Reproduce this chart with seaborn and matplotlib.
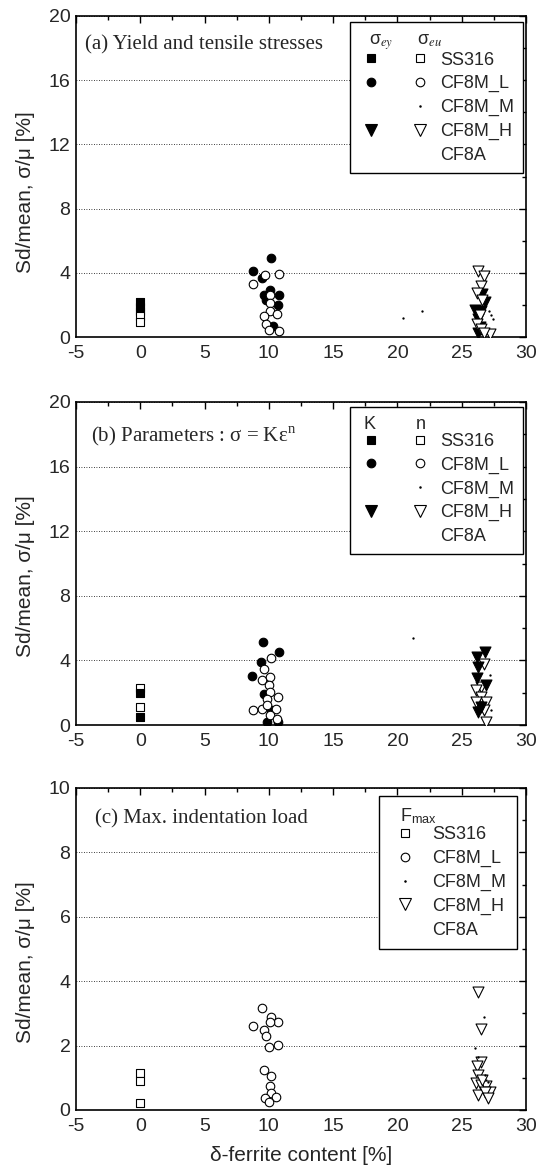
import numpy as np
import pandas as pd
import matplotlib
matplotlib.use("Agg")
import matplotlib.pyplot as plt
import seaborn as sns
from matplotlib.lines import Line2D
from matplotlib.legend_handler import HandlerTuple
from matplotlib.ticker import MultipleLocator

# ---------------- data ----------------
# panel (a): yield (sigma_ey, filled) and tensile (sigma_eu, open)
a_ss_ey_x = [0, 0, 0]
a_ss_ey_y = [2.15, 1.9, 1.65]
a_ss_eu_x = [0, 0]
a_ss_eu_y = [1.3, 0.95]
a_L_ey_x = [8.8, 10.2, 9.5, 10.1, 9.6, 10.8, 10.7, 9.8, 10.3]
a_L_ey_y = [4.1, 4.95, 3.7, 2.9, 2.6, 2.6, 2.0, 2.3, 0.7]
a_L_eu_x = [8.8, 9.7, 10.8, 10.1, 10.1, 10.1, 9.6, 10.6, 9.8, 10.0, 10.8]
a_L_eu_y = [3.3, 3.85, 3.95, 2.6, 2.1, 1.6, 1.3, 1.45, 0.8, 0.45, 0.35]
a_M_x = [20.4, 21.9, 27.3, 27.1, 26.8, 27.4]
a_M_y = [1.2, 1.6, 1.4, 1.6, 2.1, 1.1]
a_H_ey_x = [26.6, 26.0, 26.3, 26.3, 26.5, 26.8, 26.4]
a_H_ey_y = [2.65, 1.7, 1.1, 0.27, 1.6, 2.2, 0.6]
a_H_eu_x = [26.3, 26.7, 26.5, 26.2, 26.4, 26.2, 26.5, 27.2, 26.7, 26.6]
a_H_eu_y = [4.1, 3.78, 3.16, 2.75, 1.4, 0.8, 0.5, 0.17, 0.27, 2.3]

# panel (b): K (filled) and n (open)
b_ss_K_x = [0, 0]
b_ss_K_y = [1.96, 0.52]
b_ss_n_x = [0, 0]
b_ss_n_y = [2.27, 1.13]
b_L_K_x = [9.57, 10.79, 9.41, 8.71, 9.62, 9.83, 10.74, 10.2]
b_L_K_y = [5.11, 4.52, 3.88, 3.03, 1.9, 0.2, 0.2, 0.93]
b_L_n_x = [10.16, 9.6, 9.5, 10.1, 9.98, 10.08, 10.73, 9.83, 9.44, 8.74, 10.55, 10.08, 9.87, 10.6]
b_L_n_y = [4.12, 3.48, 2.78, 2.99, 2.47, 2.06, 1.75, 1.59, 0.97, 0.93, 0.97, 0.62, 1.24, 0.37]
b_M_x = [27.2, 27.3, 21.2]
b_M_y = [3.1, 0.9, 5.36]
b_H_K_x = [26.2, 26.8, 26.3, 26.2, 26.9, 26.5, 26.3]
b_H_K_y = [4.23, 4.5, 3.6, 2.9, 2.47, 1.13, 0.82]
b_H_n_x = [26.7, 26.5, 26.1, 26.5, 26.9, 26.1, 26.7, 26.9]
b_H_n_y = [3.8, 2.37, 2.16, 1.75, 1.44, 1.44, 0.93, 0.2]

# panel (c): F_max (open)
c_ss_x = [0, 0, 0]
c_ss_y = [1.16, 0.91, 0.21]
c_L_x = [9.46, 8.74, 10.14, 10.73, 10.1, 9.6, 9.8, 9.98, 10.73, 9.6, 10.14, 10.08, 10.14, 9.67, 10.55, 10.0]
c_L_y = [3.16, 2.62, 2.9, 2.73, 2.73, 2.5, 2.3, 1.95, 2.02, 1.24, 1.06, 0.75, 0.52, 0.36, 0.39, 0.26]
c_M_x = [26.7, 26.0, 26.3, 26.8, 27.05]
c_M_y = [2.88, 1.92, 1.66, 1.09, 0.88]
c_H_x = [26.3, 26.5, 26.5, 26.2, 26.3, 26.1, 26.5, 26.9, 27.2, 26.3, 26.8, 27.05, 26.6]
c_H_y = [3.68, 2.51, 1.5, 1.37, 1.09, 0.83, 0.78, 0.73, 0.57, 0.47, 0.57, 0.36, 0.93]

materials = ["SS316", "CF8M_L", "CF8M_M", "CF8M_H", "CF8A"]
panel_titles = ["(a) Yield and tensile stresses",
                "(b) Parameters : \u03c3 = K\u03b5$^{\\mathregular{n}}$",
                "(c) Max. indentation load"]
legend_titles = ["  \u03c3$_{ey}$     \u03c3$_{eu}$", " K        n", "  F$_{\\mathregular{max}}$"]
xlabel = "\u03b4-ferrite content [%]"
ylabel = "Sd/mean, \u03c3/\u03bc [%]"

# ---------------- style ----------------
sns.set_style("white")
plt.rcParams["font.family"] = ["Liberation Sans", "DejaVu Sans"]
plt.rcParams["mathtext.fontset"] = "stix"
plt.rcParams["axes.unicode_minus"] = False

fig = plt.figure(figsize=(5.48, 11.73), dpi=100)
W, H = 548, 1173
def axrect(l, t, r, b):
    return [l / W, 1 - b / H, (r - l) / W, (b - t) / H]

axa = fig.add_axes(axrect(76, 16, 526, 337))
axb = fig.add_axes(axrect(76, 402, 526, 725))
axc = fig.add_axes(axrect(76, 788, 526, 1110))

S_SQ, S_CI, S_TR, S_DOT = 26, 38, 62, 3

def scat(ax, x, y, marker, s, filled):
    fc = "black" if filled else "white"
    sns.scatterplot(x=x, y=y, marker=marker, s=s, color=fc, edgecolor="black",
                    linewidth=0.8, ax=ax, zorder=3)

# panel a
scat(axa, a_ss_ey_x, a_ss_ey_y, "s", S_SQ, True)
scat(axa, a_ss_eu_x, a_ss_eu_y, "s", S_SQ, False)
scat(axa, a_L_ey_x, a_L_ey_y, "o", S_CI, True)
scat(axa, a_L_eu_x, a_L_eu_y, "o", S_CI, False)
scat(axa, a_H_ey_x, a_H_ey_y, "v", S_TR, True)
scat(axa, a_H_eu_x, a_H_eu_y, "v", S_TR, False)
scat(axa, a_M_x, a_M_y, ".", S_DOT, True)

# panel b
scat(axb, b_ss_n_x, b_ss_n_y, "s", S_SQ, False)
scat(axb, b_ss_K_x, b_ss_K_y, "s", S_SQ, True)
scat(axb, b_L_K_x, b_L_K_y, "o", S_CI, True)
scat(axb, b_L_n_x, b_L_n_y, "o", S_CI, False)
scat(axb, b_H_n_x, b_H_n_y, "v", S_TR, False)
scat(axb, b_H_K_x, b_H_K_y, "v", S_TR, True)
scat(axb, b_M_x, b_M_y, ".", S_DOT, True)

# panel c
scat(axc, c_ss_x, c_ss_y, "s", S_SQ, False)
scat(axc, c_L_x, c_L_y, "o", S_CI, False)
scat(axc, c_H_x, c_H_y, "v", S_TR, False)
scat(axc, c_M_x, c_M_y, ".", S_DOT, True)

def mk(marker, filled, ms):
    if marker is None:
        return Line2D([], [], ls="none", marker="")
    return Line2D([], [], ls="none", marker=marker, ms=ms,
                  mfc="black" if filled else "white", mec="black", mew=0.8)

for ax, ymax, ymaj, ymin in [(axa, 20, 4, 2), (axb, 20, 4, 2), (axc, 10, 2, 1)]:
    ax.set_xlim(-5, 30)
    ax.set_ylim(0, ymax)
    ax.xaxis.set_major_locator(MultipleLocator(5))
    ax.xaxis.set_minor_locator(MultipleLocator(2.5))
    ax.yaxis.set_major_locator(MultipleLocator(ymaj))
    ax.yaxis.set_minor_locator(MultipleLocator(ymin))
    ax.tick_params(which="both", direction="in", top=True, right=True,
                   color="black", width=1)
    ax.tick_params(which="major", length=5, labelsize=14)
    ax.tick_params(which="minor", length=3)
    ax.tick_params(axis="x", pad=6)
    ax.tick_params(axis="y", pad=4)
    ax.grid(axis="y", which="major", ls=(0, (1, 2)), color="black", lw=0.6)
    for sp in ax.spines.values():
        sp.set_color("black")
        sp.set_linewidth(1.2)
    ax.set_ylabel(ylabel, fontsize=15)
    ax.set_xlabel("")

axa.yaxis.set_label_coords(-0.092, 0.45)
axb.yaxis.set_label_coords(-0.092, 0.46)
axc.yaxis.set_label_coords(-0.092, 0.46)
axc.set_xlabel(xlabel, fontsize=15, labelpad=8)

serif = ["Liberation Serif", "DejaVu Serif"]
axa.text(0.02, 0.91, panel_titles[0], transform=axa.transAxes, va="center",
         ha="left", fontsize=15, family=serif)
axb.text(0.033, 0.892, panel_titles[1], transform=axb.transAxes, va="center",
         ha="left", fontsize=15, family=serif)
axc.text(0.042, 0.904, panel_titles[2], transform=axc.transAxes, va="center",
         ha="left", fontsize=15, family=serif)

# legends
FS = 13
two_col = [
    ("s", "s", 5.2), ("o", "o", 6.2), (None, ".", 2.0),
    ("v", "v", 8.0), (None, None, 1),
]

def two_legend(ax, title, anchor):
    handles = []
    for (m1, m2, ms) in two_col:
        handles.append((mk(m1, True, ms), mk(m2, False, ms)))
    leg = ax.legend(handles, materials, loc="upper right", bbox_to_anchor=anchor,
                    borderaxespad=0, fontsize=FS, frameon=True, fancybox=False,
                    edgecolor="black", framealpha=1, handlelength=4.05,
                    handletextpad=0.45, labelspacing=0.37, borderpad=0.5,
                    title=title, title_fontsize=FS, alignment="left",
                    handler_map={tuple: HandlerTuple(ndivide=None, pad=1.37)})
    leg.get_frame().set_linewidth(1.0)
    leg._legend_box.sep = 0
    return leg

two_legend(axa, legend_titles[0], (0.993, 0.981))
two_legend(axb, legend_titles[1], (0.993, 0.985))

c_handles = [mk("s", False, 5.2), mk("o", False, 6.2), mk(".", True, 2.0),
             mk("v", False, 8.0), mk(None, False, 1)]
legc = axc.legend(c_handles, materials, loc="upper right", bbox_to_anchor=(0.98, 0.975),
                  borderaxespad=0, fontsize=FS, frameon=True, fancybox=False,
                  edgecolor="black", framealpha=1, handlelength=1.68,
                  handletextpad=0.66, labelspacing=0.37, borderpad=0.6,
                  title=legend_titles[2], title_fontsize=FS, alignment="left")
legc.get_frame().set_linewidth(1.0)
legc._legend_box.sep = 0

fig.savefig("out.png", dpi=100)
